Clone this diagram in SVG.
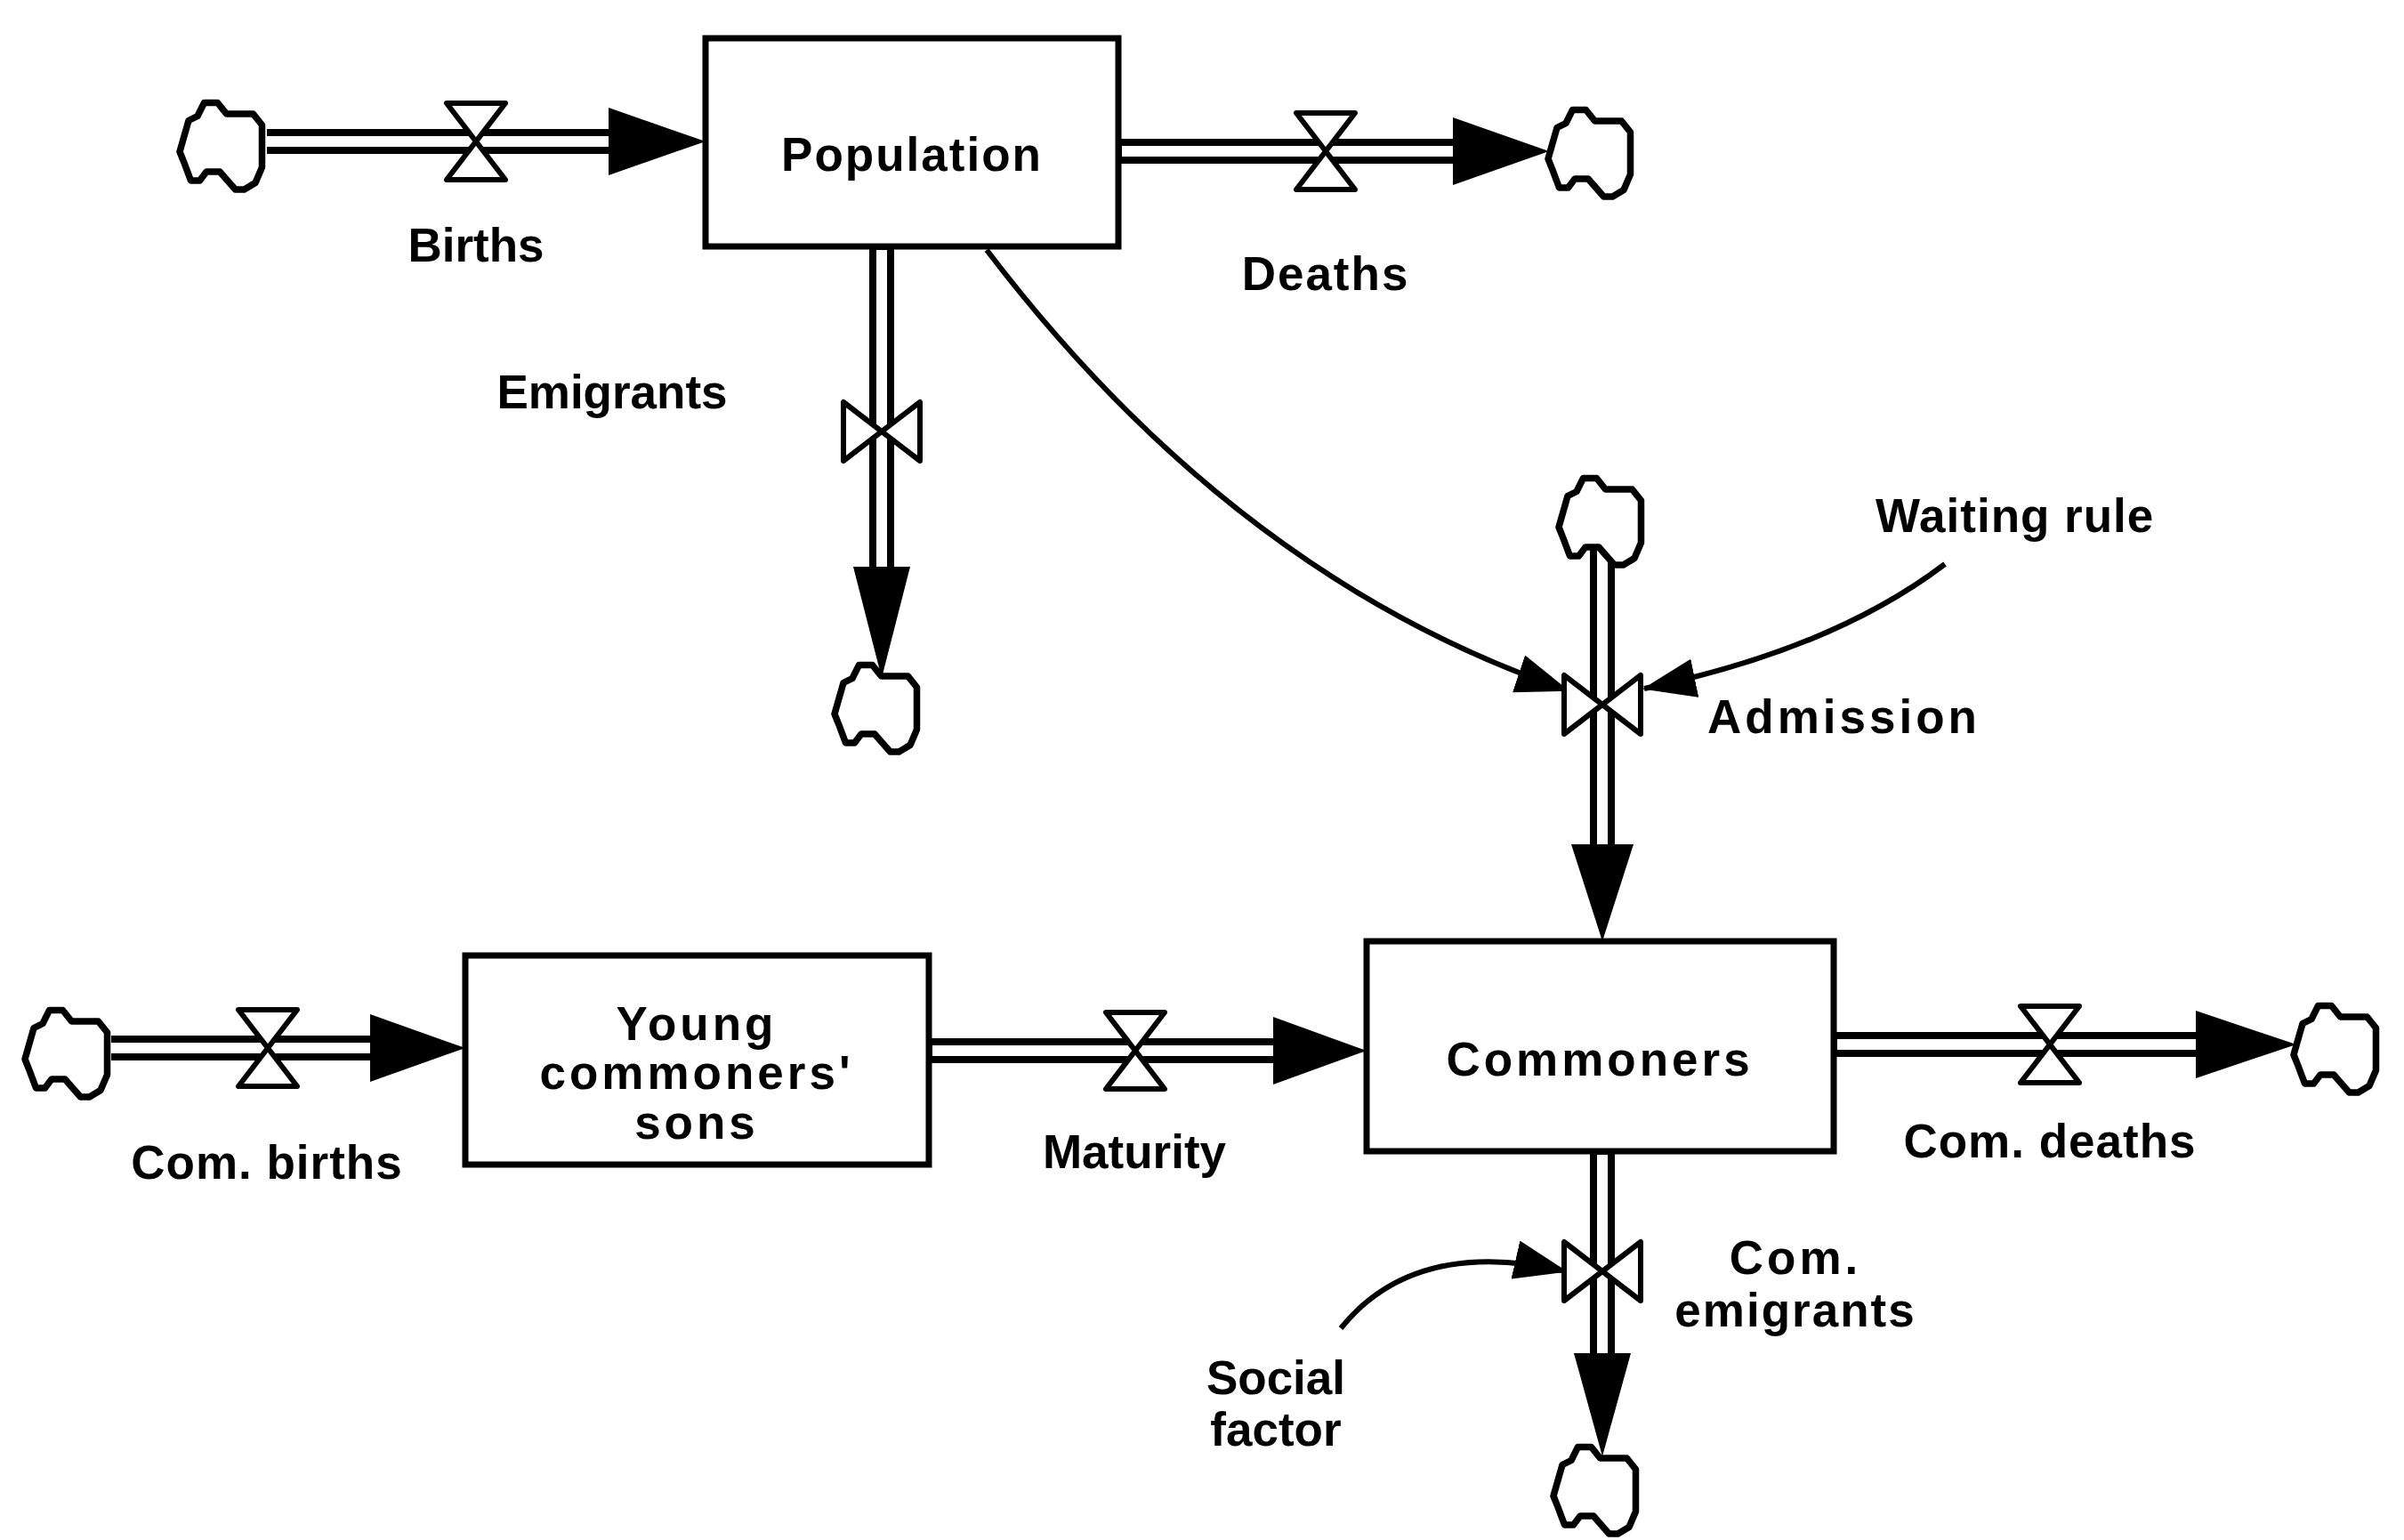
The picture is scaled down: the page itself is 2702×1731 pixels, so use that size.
<svg xmlns="http://www.w3.org/2000/svg" width="2702" height="1731" viewBox="0 0 2702 1731">
<defs>
<style>
.box{fill:#fff;stroke:#000;stroke-width:7}
.po{stroke:#000;stroke-width:28;fill:none}
.pi{stroke:#fff;stroke-width:12;fill:none}
.valve{fill:#fff;stroke:#000;stroke-width:6;stroke-linejoin:round}
.cloud{fill:#fff;stroke:#000;stroke-width:6;stroke-linejoin:round}
.link{fill:none;stroke:#000;stroke-width:6}
text{font-family:"Liberation Sans",Arial,sans-serif;font-weight:bold;font-size:53px;fill:#000;text-anchor:middle}
.sp{letter-spacing:4px}
</style>
<path id="cl" class="cloud" transform="scale(1.25)" d="M-44,-8 L-40,-22 L-32,-26 L-26,-38 L-14,-38 L-6,-28 L18,-28 L26,-18 L26,20 L20,34 L10,40 L2,40 L-12,24 L-24,24 L-30,32 L-38,32 L-44,16 L-48,6 Z"/>
<path id="vh" class="valve" d="M-33,-43 L33,-43 L-33,43 L33,43 Z"/>
<path id="vv" class="valve" d="M-43,-33 L-43,33 L43,-33 L43,33 Z"/>
<marker id="ah" viewBox="0 0 60 44" refX="58" refY="22" markerWidth="60" markerHeight="44" markerUnits="userSpaceOnUse" orient="auto"><path d="M0,0 L60,22 L0,44 Z" fill="#000"/></marker>
</defs>
<g id="connectors">
<line class="po" x1="300" y1="159" x2="690" y2="159"/><line class="pi" x1="300" y1="159" x2="690" y2="159"/>
<path d="M684,121 L793,159 L684,197 Z"/>
<line class="po" x1="1257" y1="170" x2="1640" y2="170"/><line class="pi" x1="1261" y1="170" x2="1640" y2="170"/>
<path d="M1633,132 L1741,170 L1633,208 Z"/>
<line class="po" x1="991" y1="277" x2="991" y2="642"/><line class="pi" x1="991" y1="281" x2="991" y2="642"/>
<path d="M959,637 L991,762 L1023,637 Z"/>
<line class="po" x1="1801" y1="610" x2="1801" y2="955"/><line class="pi" x1="1801" y1="610" x2="1801" y2="955"/>
<path d="M1766,949 L1801,1058 L1836,949 Z"/>
<line class="po" x1="125" y1="1178" x2="420" y2="1178"/><line class="pi" x1="125" y1="1178" x2="420" y2="1178"/>
<path d="M416,1140 L523,1178 L416,1216 Z"/>
<line class="po" x1="1044" y1="1181" x2="1436" y2="1181"/><line class="pi" x1="1048" y1="1181" x2="1436" y2="1181"/>
<path d="M1431,1143 L1536,1181 L1431,1219 Z"/>
<line class="po" x1="2061" y1="1174" x2="2474" y2="1174"/><line class="pi" x1="2065" y1="1174" x2="2474" y2="1174"/>
<path d="M2468,1136 L2581,1174 L2468,1212 Z"/>
<line class="po" x1="1801" y1="1294" x2="1801" y2="1526"/><line class="pi" x1="1801" y1="1298" x2="1801" y2="1526"/>
<path d="M1769,1521 L1801,1637 L1833,1521 Z"/>
<path class="link" d="M1109,281 Q1390,650 1762,776" marker-end="url(#ah)"/>
<path class="link" d="M2186,634 Q2060,730 1848,774" marker-end="url(#ah)"/>
<path class="link" d="M1507,1493 Q1590,1390 1760,1429" marker-end="url(#ah)"/>
</g>
<g id="population"><rect class="box" x="793" y="43" width="464" height="234"/><text x="1025" y="192" letter-spacing="2">Population</text></g>
<g id="young"><rect class="box" x="523" y="1074" width="521" height="235"/>
<text class="sp" x="783" y="1169">Young</text><text class="sp" x="783" y="1224">commoners'</text><text class="sp" x="783" y="1280">sons</text></g>
<g id="commoners"><rect class="box" x="1536" y="1058" width="525" height="236"/><text class="sp" x="1798" y="1209">Commoners</text></g>
<g id="births"><use href="#cl" x="262" y="163"/><use href="#vh" x="535" y="159"/><text x="535" y="294">Births</text></g>
<g id="deaths"><use href="#cl" x="1800" y="171"/><use href="#vh" x="1490" y="170"/><text x="1490" y="326" letter-spacing="2">Deaths</text></g>
<g id="emigrants"><use href="#cl" x="998" y="795"/><use href="#vv" x="991" y="485"/><text x="688" y="459">Emigrants</text></g>
<g id="admission"><use href="#cl" x="1812" y="585"/><use href="#vv" x="1801" y="792"/><text class="sp" x="1919" y="824" style="text-anchor:start">Admission</text></g>
<g id="waiting"><text x="2108" y="598" style="text-anchor:start" letter-spacing="1">Waiting rule</text></g>
<g id="combirths"><use href="#cl" x="88" y="1183"/><use href="#vh" x="301" y="1178"/><text x="300" y="1325" letter-spacing="1">Com. births</text></g>
<g id="maturity"><use href="#vh" x="1276" y="1181"/><text x="1275" y="1313">Maturity</text></g>
<g id="comdeaths"><use href="#cl" x="2638" y="1178"/><use href="#vh" x="2304" y="1174"/><text x="2304" y="1301" letter-spacing="1">Com. deaths</text></g>
<g id="comemigrants"><use href="#cl" x="1806" y="1674"/><use href="#vv" x="1801" y="1429"/><text class="sp" x="2018" y="1432">Com.</text><text x="2018" y="1491" letter-spacing="2">emigrants</text></g>
<g id="social"><text x="1434" y="1567">Social</text><text x="1434" y="1625">factor</text></g>
</svg>
